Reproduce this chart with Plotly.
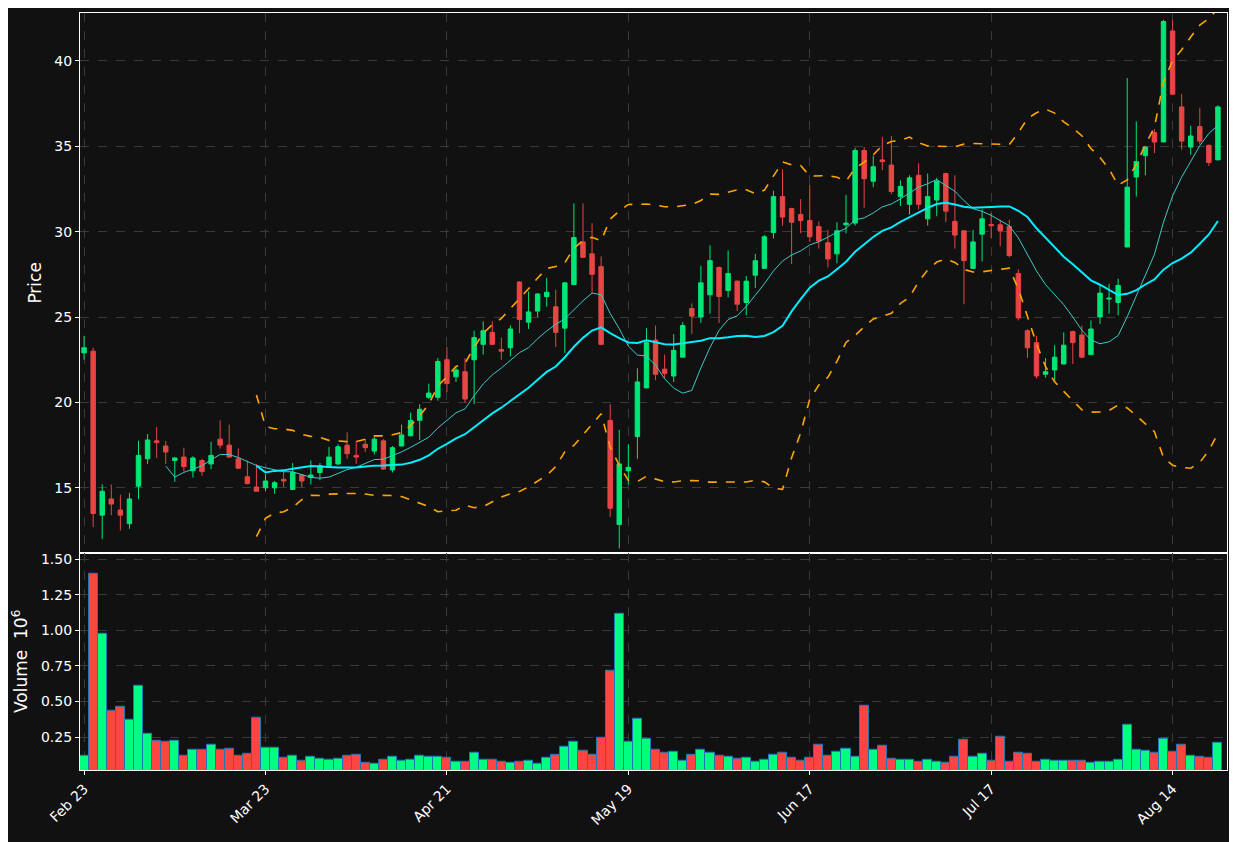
import pandas as pd
import plotly.graph_objects as go

opens = [22.9,23.0,13.4,14.35,13.7,12.9,15.1,16.7,17.75,17.45,16.6,16.8,16.0,16.6,16.4,17.85,17.5,16.7,15.65,15.05,
         15.0,15.0,15.5,14.9,15.75,15.6,15.9,16.3,16.4,17.5,16.9,17.55,17.15,17.75,16.05,17.45,18.05,18.95,20.3,20.3,
         22.5,21.5,21.8,22.5,23.4,24.1,23.1,23.2,27.05,24.7,25.35,26.2,25.6,24.35,26.9,29.4,28.7,27.95,18.95,12.85,
         16.0,18.0,20.85,23.65,21.95,21.55,22.65,25.5,25.0,26.3,27.9,26.55,27.1,25.85,27.45,27.85,29.95,32.05,31.35,31.0,
         30.65,30.3,29.35,28.7,30.4,30.5,34.75,32.95,34.2,33.9,32.05,31.6,33.3,30.75,31.85,33.4,30.6,30.05,27.85,29.85,
         30.42,30.4,30.3,27.55,24.2,23.5,21.65,21.9,22.25,24.15,23.95,22.8,25.0,26.05,25.85,29.1,33.2,34.45,35.8,35.25,
         41.75,37.3,34.95,36.15,35.05,34.2]
highs = [23.9,23.2,15.2,15.2,14.6,14.7,17.75,18.15,18.55,17.75,16.8,17.35,16.85,16.7,17.7,18.95,18.7,17.3,16.6,16.4,
         15.8,15.4,15.95,16.45,15.8,16.6,16.45,17.4,17.55,18.25,17.75,17.85,18.0,17.85,17.45,18.7,19.4,19.9,21.1,22.6,
         23.25,22.05,22.6,24.2,24.75,24.75,23.8,24.5,27.1,26.5,26.4,27.3,26.6,27.05,31.65,31.65,30.5,28.55,19.9,18.4,
         17.55,22.0,24.35,24.5,22.8,24.0,24.7,25.8,28.0,29.2,27.95,28.9,27.15,27.4,28.7,29.8,32.4,33.65,31.4,31.9,
         32.75,30.6,30.1,30.55,32.15,34.9,34.95,34.45,35.55,35.6,33.0,33.3,34.0,33.4,33.15,33.45,33.3,30.05,30.1,31.3,
         31.1,30.7,30.7,27.8,24.3,23.9,22.6,23.35,24.1,24.2,24.5,24.8,26.9,26.95,27.25,39.0,36.45,35.0,36.0,42.4,
         42.4,38.05,36.2,37.25,35.1,37.4]
lows = [22.5,12.7,12.0,13.4,12.5,12.6,14.35,16.4,16.75,16.4,15.35,15.95,15.6,15.7,16.1,17.3,16.75,16.1,15.2,14.8,
        14.8,14.65,15.05,14.9,15.05,15.2,15.45,16.3,16.35,16.7,16.4,17.1,16.95,16.05,15.9,17.45,18.0,17.8,20.2,20.1,
        20.6,21.2,20.0,19.9,22.8,23.4,22.5,22.7,24.05,24.3,25.0,25.6,23.25,22.9,26.9,28.45,26.4,23.35,13.3,11.45,
        15.2,16.7,20.85,21.3,21.4,21.2,22.65,24.0,24.65,25.2,24.65,26.15,25.35,25.1,26.7,27.85,29.6,30.35,28.1,29.9,
        29.4,29.0,27.9,28.15,29.9,30.35,31.4,32.6,33.6,32.2,31.5,31.0,31.3,30.35,30.9,30.55,29.0,25.75,27.8,28.25,
        29.6,29.15,28.5,24.8,22.6,21.4,21.45,21.25,22.25,22.25,22.6,22.8,24.6,25.2,25.1,29.1,32.05,33.3,34.6,35.25,
        38.0,34.8,34.5,35.1,33.85,34.2]
closes = [23.2,13.5,14.8,14.05,13.4,14.35,16.9,17.8,17.65,17.1,16.75,16.25,16.75,15.95,16.9,17.5,16.8,16.15,15.25,14.8,
          15.4,15.3,15.4,15.9,15.4,15.75,16.3,16.8,17.4,17.0,16.8,17.35,17.85,16.1,17.35,18.1,18.95,19.6,20.55,22.4,
          21.1,21.9,20.2,23.8,24.2,23.4,23.0,24.3,24.85,25.3,26.35,26.45,24.1,27.0,29.65,28.5,27.5,23.4,13.8,16.4,
          16.2,21.2,23.5,21.65,21.7,23.05,24.5,25.05,27.0,28.3,26.2,27.55,25.75,27.1,28.3,29.7,32.05,30.85,30.55,30.65,
          29.7,29.45,28.4,30.05,30.5,34.75,33.1,33.8,34.1,32.35,32.65,33.15,31.6,32.05,32.95,31.2,29.8,28.3,29.4,30.75,
          30.35,30.05,28.6,24.95,23.2,21.55,21.8,22.65,23.35,23.5,22.65,24.3,26.4,26.1,26.85,32.6,34.1,34.95,35.25,42.3,
          38.05,35.3,35.6,35.3,34.05,37.3]
volumes = [0.123,1.396,0.979,0.438,0.465,0.375,0.611,0.271,0.222,0.215,0.222,0.123,0.160,0.160,0.194,0.160,0.167,0.123,0.132,0.389,
           0.174,0.174,0.104,0.123,0.083,0.111,0.097,0.090,0.097,0.118,0.125,0.069,0.063,0.090,0.111,0.083,0.090,0.118,0.111,0.111,
           0.104,0.076,0.076,0.139,0.090,0.090,0.076,0.069,0.076,0.083,0.063,0.104,0.125,0.181,0.215,0.153,0.125,0.243,0.715,1.118,
           0.215,0.382,0.236,0.160,0.139,0.146,0.083,0.125,0.160,0.139,0.118,0.111,0.097,0.104,0.076,0.090,0.125,0.139,0.104,0.083,
           0.104,0.194,0.118,0.146,0.167,0.111,0.472,0.160,0.188,0.097,0.090,0.090,0.076,0.090,0.076,0.069,0.111,0.229,0.111,0.132,
           0.083,0.250,0.076,0.139,0.132,0.076,0.090,0.083,0.083,0.083,0.083,0.069,0.076,0.076,0.090,0.340,0.160,0.153,0.139,0.236,
           0.146,0.194,0.118,0.111,0.104,0.208]
tick_idx = [0, 20, 40, 60, 80, 100, 120]
tick_labels = ["Feb 23", "Mar 23", "Apr 21", "May 19", "Jun 17", "Jul 17", "Aug 14"]

n = len(closes)
x = list(range(n))
c = pd.Series(closes)
ma10 = c.rolling(10).mean()
ma20 = c.rolling(20).mean()
sd = c.rolling(20).std(ddof=0)
upper = ma20 + 2 * sd
lower = ma20 - 2 * sd

GREEN_C, RED_C = "#00e676", "#e84545"
GREEN_V, RED_V = "#00ff80", "#ff4444"
vcols = [GREEN_V if cl >= op else RED_V for op, cl in zip(opens, closes)]

fig = go.Figure()
fig.add_trace(go.Candlestick(x=x, open=opens, high=highs, low=lows, close=closes,
    increasing=dict(line=dict(color=GREEN_C, width=1), fillcolor=GREEN_C),
    decreasing=dict(line=dict(color=RED_C, width=1), fillcolor=RED_C),
    whiskerwidth=0, xaxis="x", yaxis="y", showlegend=False))
fig.add_trace(go.Scatter(x=x, y=ma10, mode="lines", line=dict(color="#40c8c8", width=1), xaxis="x", yaxis="y", showlegend=False))
fig.add_trace(go.Scatter(x=x, y=ma20, mode="lines", line=dict(color="#00eeff", width=2), xaxis="x", yaxis="y", showlegend=False))
fig.add_trace(go.Scatter(x=x, y=upper, mode="lines", line=dict(color="#ffa500", width=1.6, dash="dash"), xaxis="x", yaxis="y", showlegend=False))
fig.add_trace(go.Scatter(x=x, y=lower, mode="lines", line=dict(color="#ffa500", width=1.6, dash="dash"), xaxis="x", yaxis="y", showlegend=False))
fig.add_trace(go.Bar(x=x, y=volumes, marker=dict(color=vcols, line=dict(color="#1f77b4", width=1)),
    width=1.0, xaxis="x2", yaxis="y2", showlegend=False))

grid = dict(showgrid=True, gridcolor="#3a3a3a", griddash="dash", gridwidth=1,
            showline=True, linecolor="white", linewidth=1.2, mirror=True,
            ticks="outside", tickcolor="white", ticklen=4, zeroline=False)
fig.update_layout(
    width=1229, height=834, paper_bgcolor="#111111", plot_bgcolor="#111111",
    margin=dict(l=72, r=10, t=3, b=72),
    font=dict(family="DejaVu Sans", size=14, color="white"),
    bargap=0,
    xaxis=dict(domain=[0, 1], anchor="y", range=[-0.45, 126], tickvals=tick_idx, showticklabels=False,
               rangeslider=dict(visible=False), **grid),
    yaxis=dict(domain=[0.287, 1], anchor="x", range=[11.2, 42.8], tickvals=[15, 20, 25, 30, 35, 40],
               title=dict(text="Price", standoff=8), **grid),
    xaxis2=dict(domain=[0, 1], anchor="y2", range=[-0.45, 126], tickvals=tick_idx, ticktext=tick_labels,
                tickangle=-45, matches="x", **grid),
    yaxis2=dict(domain=[0, 0.287], anchor="x2", range=[0.02, 1.544],
                tickvals=[0.25, 0.5, 0.75, 1.0, 1.25, 1.5], ticktext=["0.25", "0.50", "0.75", "1.00", "1.25", "1.50"],
                title=dict(text="Volume  10<sup>6</sup>", standoff=8), **grid),
)
fig.write_html("out.html")
